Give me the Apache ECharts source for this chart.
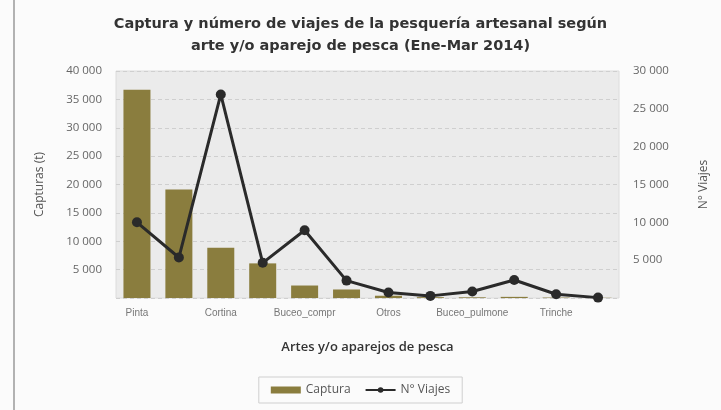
<!DOCTYPE html>
<html><head><meta charset="utf-8">
<script src="https://cdn.jsdelivr.net/npm/echarts@6/dist/echarts.min.js"></script>
<style>html,body{margin:0;padding:0;background:#fbfbfb}#c{width:721px;height:410px}</style>
</head><body><div id="c"></div>
<script>
const categories = ['Pinta','Red de cerco','Cortina','Espinel','Buceo_compr','Chinchorro','Otros','Palangre','Buceo_pulmone','Atarraya','Trinche','Nasa'];
const captura = [36700, 19100, 8850, 6100, 2200, 1500, 400, 150, 120, 200, 80, 40];
const viajes = [10000, 5350, 26900, 4650, 8950, 2300, 720, 280, 850, 2380, 500, 50];
const leftTicks = [0, 40000, 5000];
const rightTicks = [0, 30000, 5000];

const fmt = v => v === 0 ? '' : String(v).replace(/\B(?=(\d{3})+(?!\d))/g, ' ');
const chart = echarts.init(document.getElementById('c'));
chart.setOption({
  backgroundColor: '#fbfbfb',
  title: {
    text: 'Captura y número de viajes de la pesquería artesanal según\narte y/o aparejo de pesca (Ene-Mar 2014)',
    left: 'center', top: 8,
    textStyle: { fontFamily: 'DejaVu Sans', fontWeight: 'bold', fontSize: 14.5, color: '#333', lineHeight: 22 }
  },
  graphic: [
    { type: 'line', shape: { x1: 14, y1: 0, x2: 14, y2: 410 }, style: { stroke: '#9a9a9a', lineWidth: 1.5 } }
  ],
  legend: {
    bottom: 7, left: 'center',
    data: [{ name: 'Captura', icon: 'rect' }, { name: 'N° Viajes' }],
    itemWidth: 30, itemHeight: 7, itemGap: 14,
    borderColor: '#cfcfcf', borderWidth: 1, padding: [7, 12],
    textStyle: { fontFamily: 'Open Sans', fontSize: 12, color: '#555' }
  },
  grid: { left: 116, right: 102, top: 71, bottom: 112, show: true, backgroundColor: '#ebebeb', borderColor: '#dcdcdc', borderWidth: 1 },
  xAxis: {
    type: 'category', data: categories,
    name: 'Artes y/o aparejos de pesca', nameLocation: 'middle', nameGap: 43,
    nameTextStyle: { fontFamily: 'Open Sans', fontSize: 13, color: '#333', fontWeight: 600 },
    axisLine: { show: false }, axisTick: { show: false },
    axisLabel: { interval: 1, fontFamily: 'Liberation Sans', fontSize: 10, color: '#777', margin: 10 }
  },
  yAxis: [
    {
      type: 'value', min: leftTicks[0], max: leftTicks[1], interval: leftTicks[2],
      name: 'Capturas (t)', nameLocation: 'middle', nameGap: 70, nameRotate: 90,
      nameTextStyle: { fontFamily: 'Open Sans', fontSize: 12, color: '#555' },
      axisLine: { show: false }, axisTick: { show: false },
      axisLabel: { formatter: fmt, fontFamily: 'Open Sans', fontSize: 11.5, color: '#666', margin: 14 },
      splitLine: { lineStyle: { color: '#cfcfcf', type: [4, 3] } }
    },
    {
      type: 'value', min: rightTicks[0], max: rightTicks[1], interval: rightTicks[2],
      name: 'N° Viajes', nameLocation: 'middle', nameGap: 79, nameRotate: 90,
      nameTextStyle: { fontFamily: 'Open Sans', fontSize: 12, color: '#555' },
      axisLine: { show: false }, axisTick: { show: false },
      axisLabel: { formatter: fmt, fontFamily: 'Open Sans', fontSize: 11.5, color: '#666', margin: 14 },
      splitLine: { show: false }
    }
  ],
  series: [
    { name: 'Captura', type: 'bar', data: captura, barWidth: 27, itemStyle: { color: '#8a7d3e' } },
    { name: 'N° Viajes', type: 'line', yAxisIndex: 1, data: viajes, symbol: 'circle', symbolSize: 10,
      lineStyle: { color: '#2a2a2a', width: 3 }, itemStyle: { color: '#2a2a2a' } }
  ]
});
</script></body></html>
